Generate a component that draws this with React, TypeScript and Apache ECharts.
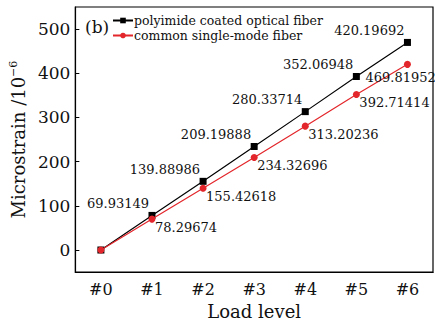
import React, { useEffect, useRef } from "react";
import * as echarts from "echarts";

const categories = ["#0", "#1", "#2", "#3", "#4", "#5", "#6"];
const polyimideValues = [0, 78.29674, 155.42618, 234.32696, 313.20236, 392.71414, 469.81952];
const commonValues = [0, 69.93149, 139.88986, 209.19888, 280.33714, 352.06948, 420.19692];
const upperLabels = ["", "69.93149", "139.88986", "209.19888", "280.33714", "352.06948", "420.19692"];
const lowerLabels = ["", "78.29674", "155.42618", "234.32696", "313.20236", "392.71414", "469.81952"];
const yTicks = [0, 100, 200, 300, 400, 500];

const FONT = "DejaVu Serif";
const RED = "#e3262b";

export default function App() {
  const ref = useRef<HTMLDivElement>(null);
  useEffect(() => {
    if (!ref.current) return;
    const chart = echarts.init(ref.current, null, { renderer: "svg" });
    const labelStyle = { fontFamily: FONT, fontSize: 13, color: "#111" };
    chart.setOption({
      animation: false,
      title: {
        text: "(b)",
        left: 80,
        top: 13,
        textStyle: { fontFamily: FONT, fontSize: 17, fontWeight: "normal", color: "#111" },
      },
      legend: {
        orient: "vertical",
        left: 112,
        top: 14,
        itemWidth: 20,
        itemHeight: 7,
        itemGap: 2,
        padding: 0,
        textStyle: { fontFamily: FONT, fontSize: 12.5, lineHeight: 13, color: "#111", padding: [0, 0, 0, -4] },
        data: ["polyimide coated optical fiber", "common single-mode fiber"],
      },
      grid: {
        left: 72,
        right: 2,
        top: 7,
        bottom: 51,
        show: true,
        borderColor: "#000",
        borderWidth: 1.2,
      },
      xAxis: {
        type: "category",
        data: categories,
        boundaryGap: true,
        name: "Load level",
        nameLocation: "middle",
        nameGap: 29,
        nameTextStyle: { fontFamily: FONT, fontSize: 18, color: "#111" },
        axisLine: { onZero: false, lineStyle: { color: "#000", width: 1.2 } },
        axisTick: { inside: true, alignWithLabel: true, length: 4, lineStyle: { color: "#000" } },
        axisLabel: { fontFamily: FONT, fontSize: 16, color: "#111", margin: 9 },
        splitLine: { show: false },
      },
      yAxis: {
        type: "value",
        min: -50,
        max: 550,
        name: "{a|Microstrain /10}{b|−6}",
        nameLocation: "middle",
        nameGap: 47,
        nameRotate: 90,
        nameTextStyle: {
          rich: {
            a: { fontFamily: FONT, fontSize: 18, color: "#111", lineHeight: 20 },
            b: { fontFamily: FONT, fontSize: 11, color: "#111", lineHeight: 20, verticalAlign: "top", padding: [0, 0, 8, 0] },
          },
        },
        axisLine: { show: true, lineStyle: { color: "#000", width: 1.2 } },
        axisTick: { show: true, inside: true, length: 4, customValues: yTicks, lineStyle: { color: "#000" } },
        axisLabel: { fontFamily: FONT, fontSize: 17, color: "#111", margin: 5, customValues: yTicks },
        splitLine: { show: false },
      },
      series: [
        {
          name: "polyimide coated optical fiber",
          type: "line",
          data: polyimideValues,
          symbol: "rect",
          symbolSize: 7,
          itemStyle: { color: "#000" },
          lineStyle: { color: "#000", width: 1.2 },
          label: {
            show: true,
            position: "inside",
            align: "right",
            verticalAlign: "middle",
            offset: [-3, -12],
            ...labelStyle,
            formatter: (p: any) => upperLabels[p.dataIndex],
          },
          z: 2,
        },
        {
          name: "common single-mode fiber",
          type: "line",
          data: commonValues.map((v, i) =>
            i === 6
              ? { value: v, label: { offset: [-42, 13] } }
              : v
          ),
          symbol: "circle",
          symbolSize: 7,
          itemStyle: { color: RED },
          lineStyle: { color: RED, width: 1.2 },
          label: {
            show: true,
            position: "inside",
            align: "left",
            verticalAlign: "middle",
            offset: [3, 8],
            ...labelStyle,
            formatter: (p: any) => lowerLabels[p.dataIndex],
          },
          z: 3,
        },
      ],
    });
    return () => chart.dispose();
  }, []);
  return <div ref={ref} style={{ width: 435, height: 325, position: "absolute", left: 0, top: 0, background: "#fff" }} />;
}
